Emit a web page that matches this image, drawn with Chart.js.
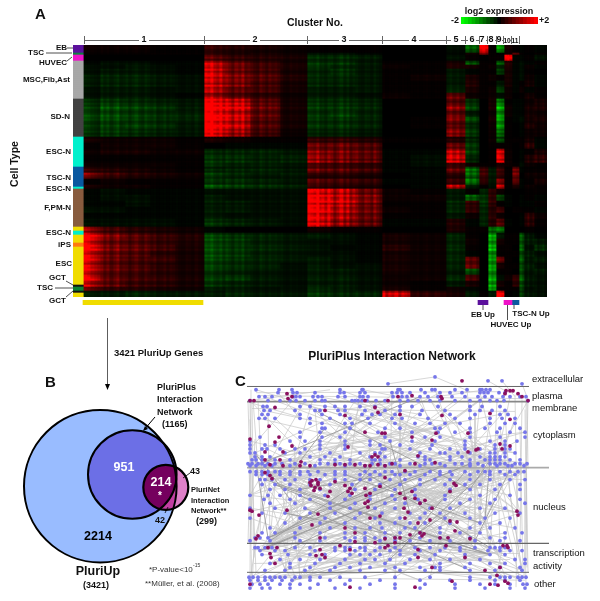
<!DOCTYPE html>
<html><head><meta charset="utf-8">
<style>html,body{margin:0;padding:0;background:#fff;overflow:hidden}
canvas{position:absolute;left:0;top:0}
#heat{filter:blur(.45px)} #net{filter:blur(.25px)}</style>
<script src="https://cdn.jsdelivr.net/npm/chart.js@4"></script>
</head><body>
<canvas id="heat" width="600" height="601"></canvas>
<canvas id="scale" width="600" height="601"></canvas>
<canvas id="up" width="600" height="601"></canvas>
<canvas id="venn" width="600" height="601"></canvas>
<canvas id="net" width="600" height="601"></canvas>
<script>
// ---------- A: heat map ----------
const clusterNames=['1','2','3','4','5','6','7','8','9','10','11'];
const clusterEdges=[0,120,223,298,362,381,395,403,412,419,427,435];
const columnEdges=[0,16,41,66,91,120,141,166,196,223,246,271,298,326,362,381,395,404,412,420,428,435,440,450,463];
const bandHeights=[4,1,3,2,2,3,3,3,3,3,3,3,3,3,3,4,3,3,3,4,2,3,3,3,2,3,3,3,3,3,4,3,3,3,3,3,3,3,3,3,3,2,3];
const expression=[
[2,2,2,1,1,5,4,3,2,1,1,1,0,0,-2,-8,20,1,-12,3,1,-1,1,-1],
[1,1,1,1,1,4,3,3,2,-2,-2,-1,0,0,-1,2,10,1,0,2,8,1,0,1],
[0,0,0,0,0,7,5,4,3,-4,-4,-3,0,0,-2,1,0,1,1,20,-1,-1,1,-2],
[-1,-2,-2,-1,-1,14,9,6,3,-5,-5,-3,1,1,3,-7,1,1,-8,4,-1,-2,-1,1],
[-2,-2,-3,-2,-1,15,10,7,4,-5,-4,-3,2,1,4,3,1,2,-4,4,-1,-2,2,-1],
[-2,-3,-3,-2,-1,16,10,7,3,-4,-5,-3,1,1,-3,-1,1,1,-6,3,-1,-2,1,0],
[-3,-4,-4,-3,-2,15,11,8,4,-4,-4,-3,1,2,-3,3,1,2,1,3,-1,-2,2,-1],
[-3,-4,-4,-3,-2,15,11,7,3,-4,-4,-3,1,1,-3,4,1,1,-3,3,-1,1,3,-1],
[-2,-3,-3,-2,-2,14,9,7,3,-3,-3,-3,1,1,-4,3,1,2,-6,2,-1,2,-1,1],
[-2,-3,-3,-2,-1,12,8,5,2,-3,-3,-2,2,1,9,2,1,2,-2,2,0,1,3,1],
[-5,-6,-5,-4,-3,20,17,9,3,-5,-5,-4,0,0,8,-5,0,3,-11,1,-1,-1,2,3],
[-5,-7,-6,-5,-3,20,17,9,3,-5,-5,-4,0,0,11,-6,0,3,-13,2,-1,-1,3,3],
[-6,-7,-6,-5,-4,20,16,9,3,-5,-6,-4,0,0,9,-3,0,2,-12,2,-1,-1,3,2],
[-6,-7,-6,-5,-4,20,16,8,3,-5,-5,-4,0,1,11,-7,0,3,-13,1,-1,-2,3,3],
[-5,-6,-6,-5,-3,20,16,8,3,-5,-5,-4,0,1,8,-4,0,2,-12,1,0,-1,4,2],
[-5,-6,-5,-4,-3,19,14,7,2,-4,-4,-3,0,0,12,-6,0,2,-10,1,0,-1,2,2],
[3,2,2,2,1,3,2,1,1,5,5,4,1,1,4,-4,0,2,-7,1,1,1,3,-1],
[1,2,2,2,1,0,-1,-1,-1,8,8,7,0,0,8,-5,0,1,1,1,0,1,5,-1],
[2,3,3,2,2,-4,-4,-4,-3,11,10,9,-1,-1,15,-6,0,1,17,2,0,-1,1,3],
[1,1,1,1,1,-5,-5,-4,-4,12,10,9,-1,-2,17,-4,0,1,18,2,0,-1,4,5],
[2,2,2,2,1,-5,-4,-4,-3,7,6,5,-1,-2,6,2,1,1,3,2,1,-2,2,1],
[5,4,3,2,1,-4,-4,-4,-3,9,8,7,-1,-1,9,-9,6,-3,6,1,10,-1,1,1],
[9,6,4,3,2,-5,-4,-3,-3,4,4,3,0,-1,4,-8,6,-3,5,1,10,0,2,2],
[1,2,1,1,1,-5,-5,-4,-3,8,7,6,-1,-1,6,-10,5,-3,11,1,9,-1,1,3],
[3,2,2,1,1,-7,-6,-5,-4,5,4,3,0,-1,14,-3,1,-2,15,1,3,-1,2,1],
[-1,-2,-1,-1,-1,-2,-2,-2,-2,18,15,10,2,1,-3,1,-4,5,2,0,0,0,1,1],
[-1,-2,-2,-1,-1,-3,-2,-2,-2,19,15,11,2,2,-3,-8,-5,5,-6,-1,0,-1,1,-1],
[-1,-1,-2,-1,-1,-3,-3,-2,-2,18,15,10,1,1,-4,5,-5,5,1,-1,0,-1,-1,1],
[-2,-2,-1,-1,-1,-3,-3,-2,-2,19,14,10,2,1,-4,5,-4,4,6,0,1,1,1,-1],
[-1,-1,-1,-1,-1,-3,-2,-2,-2,18,14,10,1,1,-3,2,-4,5,2,0,0,-1,6,2],
[-2,-2,-2,-2,-1,-5,-4,-3,-2,17,12,9,-1,-1,4,-1,-4,4,8,-1,0,-1,5,1],
[10,6,4,3,2,-1,0,0,0,2,1,1,0,0,3,1,1,-8,-9,0,0,0,1,0],
[18,11,8,6,4,-6,-5,-4,-3,-3,-2,-1,3,2,-4,1,0,-13,-3,1,1,-8,-3,-1],
[17,10,8,6,4,-7,-6,-4,-3,-2,-2,-1,3,2,-4,2,0,-13,3,1,1,-8,-4,-3],
[17,10,8,6,3,-6,-5,-4,-3,-2,-1,-1,4,2,-4,1,0,-13,1,1,0,-8,-2,-4],
[16,10,8,5,3,-7,-6,-4,-3,-2,-2,-1,3,2,-4,-1,0,-12,1,1,1,-7,-4,-2],
[16,9,7,6,3,-6,-5,-4,-3,-3,-2,-1,3,2,-4,8,0,-12,9,1,0,-8,-3,-3],
[15,9,7,5,3,-6,-5,-4,-2,-3,-2,-2,3,2,-4,9,0,-13,3,1,1,-7,-4,-2],
[15,9,7,5,3,-5,-4,-3,-2,-3,-3,-2,3,2,-3,-7,0,-12,1,1,0,-7,-3,-3],
[15,8,6,5,3,-5,-5,-3,-2,-3,-3,-2,2,2,-4,6,0,-12,-2,2,5,-8,-3,-2],
[14,9,6,5,3,-5,-4,-3,-2,-3,-3,-2,2,1,-3,3,0,-13,3,1,5,-7,-3,-2],
[8,5,4,3,2,-3,-3,-2,-2,-4,-3,-2,3,1,2,-1,0,-12,1,1,1,-6,-2,-2],
[-3,-3,-4,-3,-3,-3,-4,-3,-3,-5,-4,-4,16,5,3,-3,1,-3,20,0,-1,-6,-3,-2]];
// gene-to-gene variation inside each column block, tenths of the block value
const geneStripes=[[13,12,10,9,8],[12,9,11,8,10,12,8,9],[11,8,10,12,9,8,11,9],[10,12,8,9,11,8,10,9],[12,9,8,11,10,8,12,9,8],
[12,11,13,10,9,11,8],[12,10,8,11,9,12,8,9],[11,9,8,12,10,8,11,9,10,8],[12,9,8,11,9,10,8,9,8],
[12,11,10,13,9,10,8,11],[11,8,10,13,9,12,8,10],[12,9,8,11,10,8,12,9,7],
[12,8,10,9,11,8,10,9,8],[10,9,11,8,10,12,9,8,11,10,8,9],
[10,12,9,11,8,9],[12,9,11,8],[10,11,9],[11,9,10],[11,10,9],[10,11,9],[10,9],[11,8],[8,12,7,10],[12,7,10,13,8]];
// sample-to-sample variation, one value per 2px row
const sampleFactors=[10,12,9,8,11,10,13,9,8,12,10,9,11,8,10,12,9,11,10,8,12,9,10,11,8,9,12,10,8,11,9,13,10,8,9,12,10,11,8,9,12,10,9,11,8,10,
7,12,9,11,13,10,8,12,9,10,11,8,12,9,10,7,12,9,13,10,8,11,10,8,12,9,11,10,8,12,9,10,13,8,11,9,10,12,8,9,11,10,8,12,9,
11,13,9,8,12,10,11,8,9,12,10,13,9,8,11,10,12,9,8,11,10,12,9,8,10,11,13,9,8,12,10,11,8,12,10];
const sidebarHeights=[4,1,3,19,19,15,10,1,19,2,2,4,2,19,1,2,1,2];
const sidebarColors=['#5b109c','#0d8040','#ee12c8','#a8a8a8','#424242','#00f0cc','#0a58a0','#00f0cc','#885c3e','#f0dc00','#00eec8','#f0dc00','#ff7a10','#f0dc00','#111111','#0a8030','#111111','#f0dc00'];
const legendValues=[-2,-1.8,-1.6,-1.4,-1.2,-1,-.8,-.6,-.4,-.2,0,.2,.4,.6,.8,1,1.2,1.4,1.6,1.8,2];
const upLabels=['PluriUp','EB Up','HUVEC Up','TSC-N Up'];
const upSpans=[[-1,119],[394,404],[420,428],[428,435]];
const upColors=['#f0dc00','#5b109c','#ee12c8','#0a58a0'];

// ---------- B: Venn ----------
const vennNames=['PluriNet','PluriPlus','PluriUp'];
const vennSizes=[299,1165,3421];
const vennX=[165.8,132.3,100.3];
const vennY=[487.3,474.5,486.2];
const vennR=[22.5,44.3,76.3];

// ---------- C: network ----------
const compartmentY=[386.7,402,469,545.7,575];
const compartmentEnd=[529,529,549,549,529];
const compartmentWidth=[1,1.6,1.8,1.3,1];
const compartmentColor=['#666','#888','#aaa','#666','#666'];
const blueRows=[
[377,[435]],[381,[488,502]],[384,[388,522]],
[390,[256,279,292,340,362,363,398,400,421,432,435,455,467,480,482,486,490]],
[393,[278,293,297,315,340,344,360,365,392,397,402,410,425,440,450,462,480,484,488,499,505]],
[397,[259,265,272,293,296,300,313,318,322,338,345,360,363,368,393,402,407,420,428,438,452,465,478,485,492,503,510,520,526]],
[401,[250,268,280,290,296,305,315,325,322,352,355,358,362,367,376,385,400,408,418,430,440,455,470,480,490,497,504,528]],
[407,[263,267,300,310,325,335,345,360,375,400,412,438,470,482,500]],
[411,[264,270,295,315,320,338,345,365,385,400,422,445,470,480,492,505]],
[415,[262,268,300,322,340,362,372,380,395,420,450,475,500,508]],
[419,[259,265,275,300,310,330,350,368,392,402,428,455,470,490,502,515]],
[424,[310,322,345,352,370,395,415,430,445,460,490,505,515]],
[429,[322,325,350,385,400,435,440,470,485,500,520]],
[433,[320,300,345,378,412,438,455,470,497,510,525]],
[438,[260,300,322,340,385,425,440,470,500,525]],
[442,[250,290,305,320,345,370,390,412,435,465,490,505,517]],
[446,[250,265,275,320,345,370,380,400,432,465,495,505]],
[450,[250,262,267,280,295,305,320,345,382,385,410,430,450,465,480,495,505,510]],
[454,[250,255,285,300,330,360,375,380,420,440,445,458,470,490,495,505,515]],
[458,[255,262,270,310,325,340,370,385,418,425,450,462,480,490,495,500,505]],
[461,[252,256,262,275,290,320,335,350,372,375,380,400,425,430,450,470,485,490,495,500,510,520]],
[465,[248,252,258,262,268,275,282,295,305,320,328,335,340,350,360,372,380,390,395,410,425,432,440,455,462,470,478,490,495,500,505,515,520,527]],
[467,[250,256,265,272,290,315,345,365,385,400,420,445,470,483,497,508,512,524]],
[473,[250,256,262,268,275,280,290,300,308,318,335,345,365,375,385,392,405,415,430,440,450,465,478,485,490,500,510,518,524]],
[476,[256,262,268,280,290,300,310,325,335,345,360,370,380,395,400,410,425,440,452,470,490,505,515]],
[481,[260,265,272,285,295,310,320,335,345,360,370,390,405,420,435,450,470,490,510,525]],
[486,[262,275,290,310,330,352,380,400,420,445,465,480,500,520]],
[491,[270,285,300,320,355,375,395,415,450,470,495,520]],
[497,[250,268,280,300,325,350,370,392,415,445,480,510]],
[501,[264,290,310,345,370,395,418,445,470,495,520]],
[505,[270,295,330,355,385,405,420,460,490,525]],
[510,[250,275,305,330,350,375,395,430,450,480,505]],
[515,[262,285,310,335,360,382,410,425,440,465,495,520]],
[520,[250,300,325,355,375,400,420,445,470,485,510]],
[525,[285,320,345,380,395,410,425,450,480,500]],
[530,[270,300,330,355,370,382,405,415,440,470,490,515]],
[535,[262,275,295,320,345,365,385,400,420,440,460,480,505,522]],
[540,[255,260,268,295,325,345,355,365,375,385,395,420,440,470,490,505]],
[543,[250,270,300,320,350,365,380,395,410,430,450,475,500,520]],
[550,[255,258,265,272,295,310,335,345,350,360,365,380,395,415,430,445,460,475,490,495,500,505]],
[553,[260,275,285,315,335,345,355,365,375,390,400,420,440,460,488,500,510,522]],
[557,[262,288,310,325,350,360,370,380,400,415,435,465,490,505]],
[562,[280,300,320,345,365,375,390,410,430,450,480,515,525]],
[566,[270,290,315,340,360,385,405,440,470,490,505,525]],
[570,[290,310,335,350,370,395,420,435,440,465,500,520]],
[573,[265,285,305,330,360,385,400,425,440,470,495,522]],
[580,[249,253,258,265,270,275,280,285,295,300,310,320,340,365,395,430,470,490,500,505,510,518,522,526]],
[583,[250,258,265,272,282,292,310,330,350,380,420,450,470,495,505,520]],
[587,[252,260,268,280,290,300,318,345,370,395,425,455,480,495,510,523,527]],
[591,[250,262,270,290,310,335,360,395,420,455,485,510,525]]];
const maroonNodes=[[462,381],[506,391],[510,391],[513,391],[505,394],[518,394],[522,397],[528,401],[250,401],[254,401],[287,394],[292,397],[288,399],[365,401],[388,401],[398,397],[412,396],[441,397],[442,399],[275,408],[325,411],[375,408],[378,413],[345,416],[400,415],[442,416],[490,414],[510,420],[269,427],[250,440],[279,438],[275,443],[292,447],[265,453],[283,453],[348,448],[365,433],[382,434],[385,434],[412,438],[432,441],[436,434],[468,434],[468,453],[476,451],[478,450],[418,457],[372,458],[375,456],[378,458],[265,461],[280,461],[301,463],[270,466],[283,467],[300,467],[310,467],[335,466],[345,466],[355,466],[365,467],[370,467],[378,466],[385,467],[392,465],[415,465],[435,464],[265,474],[270,477],[272,480],[310,484],[312,482],[316,481],[318,484],[311,487],[315,489],[318,486],[320,490],[314,492],[335,483],[345,487],[350,490],[348,493],[352,495],[365,490],[370,495],[330,493],[328,498],[366,497],[368,503],[365,505],[368,509],[405,472],[412,493],[385,479],[380,488],[400,495],[405,500],[415,500],[420,505],[404,510],[408,514],[425,502],[430,522],[432,510],[405,520],[418,525],[370,520],[380,518],[420,535],[440,540],[450,523],[455,533],[448,540],[457,524],[450,493],[454,485],[456,487],[250,512],[252,513],[259,517],[287,512],[312,527],[320,540],[345,530],[355,535],[318,516],[258,538],[256,541],[355,544],[385,541],[388,548],[395,540],[395,545],[400,540],[410,537],[418,552],[422,538],[424,536],[446,548],[470,541],[503,548],[507,548],[508,550],[277,550],[268,550],[270,556],[271,560],[275,566],[320,552],[322,557],[325,560],[316,558],[340,548],[350,552],[375,545],[385,550],[418,560],[432,570],[465,560],[485,573],[500,570],[497,578],[498,588],[505,584],[508,586],[490,587],[452,584],[415,590],[350,590],[250,587],[517,513],[518,517],[500,445],[510,447],[502,450]];
const edgePairs=[12,410,25,390,40,502,61,330,77,455,88,620,95,371,103,540,118,288,130,466,142,605,150,322,166,510,171,400,183,690,190,347,204,578,212,445,225,300,233,640,241,380,255,520,268,715,274,333,281,470,296,610,305,425,318,560,326,388,339,650,347,498,352,702,366,430,379,590,385,285,398,545,404,472,417,630,428,360,436,515,449,675,457,395,463,585,478,340,482,528,495,660,503,415,511,725,524,370,532,600,547,440,558,310,566,645,573,490,588,385,596,700,607,452,615,350,629,535,638,405,646,580,653,480,661,720,672,425,684,555,693,330,704,640,712,500,721,368,728,610,735,450,
8,180,15,260,22,148,33,410,47,231,55,295,69,520,74,170,82,355,91,245,99,440,107,210,115,336,122,590,136,265,145,380,153,480,160,302,174,555,179,235,187,415,195,348,201,500,209,275,218,630,227,390,236,312,246,470,252,545,260,360,271,425,279,610,288,335,293,515,301,400,310,580,315,470,323,365,331,540,344,430,349,655,356,410,362,500,372,445,381,595,387,465,393,530,401,435,408,620,414,480,421,560,431,510,439,670,446,520,451,600,459,500,466,690,474,550,480,625,488,570,497,610,505,660,513,590,520,640,529,700,537,620,545,680,552,730,
5,300,30,420,44,350,58,270,66,480,72,600,85,330,93,560,110,420,125,500,138,380,147,650,158,440,168,310,177,525,185,265,199,460,206,370,216,575,222,420,230,510,239,340,249,620,258,480,266,395,277,545,284,430,291,680,299,505,308,370,316,590,325,450,334,620,341,490,350,560,359,420,368,700,375,505,383,610,391,460,399,570,406,510,412,650,419,480,426,560,433,620,441,500,448,710,455,530,461,590,469,640,476,520,484,605,491,565,499,675,507,610,515,640,523,590,531,700,539,655,548,610,556,720,564,640,571,690,579,650,586,725,594,680,602,640,611,710,618,665,626,700,634,680,642,720,
10,90,20,120,35,110,50,140,60,155,75,165,90,190,105,200,120,215,135,240,150,250,165,270,180,285,195,305,210,320,225,335,240,350,255,365,270,380,285,395,300,410,315,425,330,440,345,455,360,470,375,485,390,500,405,515,420,530,435,545,450,560,465,575,480,590,495,605,510,620,525,635,540,650,555,665,570,680,585,695,600,710,615,725,
800,310,805,420,811,250,818,520,822,610,829,175,835,395,841,480,846,660,852,300,858,560,863,130,868,440,874,700,880,350,886,590,891,225,897,470,903,640,908,380,914,515,920,95,925,285,931,620,937,405,942,545,948,705,
9,610,17,530,28,470,38,690,52,385,64,590,79,425,86,510,97,640,111,335,124,455,132,575,143,285,156,710,169,365,181,500,193,625,203,440,215,300,224,565,235,680,244,405,253,520,263,320,273,640,283,470,292,585,303,365,312,700,321,445,329,540,338,260,346,620,354,490,363,410,371,575,380,300,389,660,396,525,403,435,411,600,420,340,427,555,434,680,443,385,450,510,458,620,465,300,473,590,481,430,489,650,496,360,504,545,512,715,519,420,527,605,535,335,543,470,551,640,559,285,567,500,575,380,583,690,591,445,599,300,606,520,614,410,622,665,630,355,637,560,645,280,652,470,660,385,668,600,676,320,683,515,691,440,699,250,706,570,714,390,722,485,730,300,
310,352,322,376,336,402,348,421,361,445,373,466,384,489,397,510,409,533,422,554,437,576,447,598,460,620,471,641,486,662,498,684,509,705,521,728,533,400,544,430,555,465,568,495,580,525,592,555,604,585,616,615,628,645,640,675,650,700,
340,480,345,505,352,530,358,555,365,580,372,605,378,630,385,655,392,680,400,705,408,500,415,525,422,550,430,575,438,600,445,625,452,650,460,675,468,700,475,395,482,420,490,445,497,470,505,495,512,520,520,545,527,570,535,595,542,620,550,645,558,670,565,695,572,720];
const heavyPairs=[60,340,118,452,175,390,212,505,240,470,266,560,300,520,318,606,355,585,378,620,402,560,430,640,452,300,468,250,490,620,512,350,530,395,560,420,590,330,612,450,640,500,660,380,688,430,330,610,370,575,410,640,445,350,475,600];
const sideEdges=[[250,402,252,545],[251,390,250,580],[252,401,254,560],[249,465,252,590],[250,420,256,575],[253,400,258,470],[255,440,250,545],[258,401,262,480],[248,402,250,470],[250,470,248,545],[254,550,252,590],[526,397,527,545],[528,401,524,580],[525,410,527,570],[524,465,526,590],[522,400,520,550],[520,430,523,575],[518,470,516,590],[515,395,517,520],[527,402,528,470],[526,470,528,575],[250,401,330,390],[250,403,300,418],[388,384,435,377],[435,377,470,392],[488,381,505,391],[502,381,515,397],[522,384,528,400],[260,580,380,575],[420,575,525,580],[250,580,525,583],[252,552,520,556],[254,566,510,562],[260,396,522,399],[256,393,500,392],[252,409,515,412]];

// ---------- helpers ----------
const rampColor=k=>Math.round(255*Math.min(1,k));
const legendColor=v=>{const c=rampColor(Math.abs(v)/2);return v>=0?`rgb(${c},0,0)`:`rgb(0,${c},0)`};
const heatColor=v=>{const c=rampColor(Math.pow(Math.min(1,Math.abs(v)/2),1.3));return v>=0?`rgb(${c},0,0)`:`rgb(0,${c},0)`};
const F='"Liberation Sans",Arial,sans-serif';
const common={responsive:false,animation:false,events:[],plugins:{legend:{display:false},tooltip:{enabled:false}}};
const hidden=(extra)=>Object.assign({display:false},extra);
function textPlugin(id,items){return {id,afterDraw(c){const g=c.ctx;g.save();
  for(const t of items){if(t.line){g.strokeStyle=t.color||'#222';g.lineWidth=t.w||.8;g.beginPath();g.moveTo(t.line[0],t.line[1]);g.lineTo(t.line[2],t.line[3]);g.stroke();continue;}
    g.font=t.f;g.fillStyle=t.c||'#111';g.textAlign=t.a||'left';g.textBaseline='middle';
    if(t.rot){g.save();g.translate(t.x,t.y);g.rotate(t.rot);g.fillText(t.s,0,0);g.restore();}else g.fillText(t.s,t.x,t.y);}
  g.restore();}}}
const b=(s)=>`bold ${s}px ${F}`, r=(s)=>`${s}px ${F}`;

const rowBands=[];bandHeights.forEach((h,i)=>{for(let k=0;k<h;k++)rowBands.push(i)});
const rowLabels=rowBands.map((_,i)=>'r'+i);
const sideRows=[];sidebarHeights.forEach((h,i)=>{for(let k=0;k<h;k++)sideRows.push(i)});
const heatDatasets=[];
geneStripes.forEach((st,j)=>{const a=columnEdges[j],w=columnEdges[j+1]-a;
  st.forEach((f,s)=>{const x0=a+Math.round(w*s/st.length),x1=a+Math.round(w*(s+1)/st.length);
    heatDatasets.push({label:'col'+j+'.'+s,grouped:false,barPercentage:1,categoryPercentage:1,borderWidth:0,
      data:rowBands.map(()=>[x0,x1]),
      backgroundColor:rowBands.map((bd,ri)=>heatColor(expression[bd][j]/10*f/10*sampleFactors[ri]/10))});});});
heatDatasets.push({label:'Cell type',grouped:false,barPercentage:1,categoryPercentage:1,borderWidth:0,
  data:sideRows.map(()=>[-11,0]),backgroundColor:sideRows.map(i=>sidebarColors[i])});

const clusterCentres=[60,171,260,330,372,388,398,407,415,423,431];
const bracket={id:'bracket',afterDraw(c){const g=c.ctx,x=c.scales.x;g.save();g.strokeStyle='#666';g.lineWidth=1;
  const y=40;clusterEdges.forEach(e=>{const p=x.getPixelForValue(e);g.beginPath();g.moveTo(p+.5,36);g.lineTo(p+.5,44);g.stroke();});
  clusterNames.forEach((n,i)=>{const a=x.getPixelForValue(clusterEdges[i]),d=x.getPixelForValue(clusterEdges[i+1]),m=x.getPixelForValue(clusterCentres[i]),hw=i>8?5:(i>4?4:5);
    g.beginPath();g.moveTo(a,y+.5);g.lineTo(m-hw,y+.5);g.moveTo(m+hw,y+.5);g.lineTo(d,y+.5);g.stroke();});
  g.restore();}};
const labelsA=[
 {s:'A',x:35,y:15,f:b(15)},{s:'Cluster No.',x:315,y:23,a:'center',f:b(10.5)},
 {s:'log2 expression',x:499,y:12,a:'center',f:b(9)},{s:'-2',x:459,y:20.5,a:'right',f:b(9)},{s:'+2',x:539,y:20.5,f:b(9)},
 {s:'Cell Type',x:15,y:164,a:'center',f:b(10.5),rot:-Math.PI/2},
 {s:'EB',x:67,y:48,a:'right',f:b(8)},{s:'TSC',x:44,y:53,a:'right',f:b(8)},{s:'HUVEC',x:67,y:63,a:'right',f:b(8)},
 {s:'MSC,Fib,Ast',x:70,y:79.5,a:'right',f:b(8)},{s:'SD-N',x:70,y:117,a:'right',f:b(8)},{s:'ESC-N',x:71,y:152,a:'right',f:b(8)},
 {s:'TSC-N',x:71,y:178,a:'right',f:b(8)},{s:'ESC-N',x:71,y:189,a:'right',f:b(8)},{s:'F,PM-N',x:71,y:208,a:'right',f:b(8)},
 {s:'ESC-N',x:71,y:232.5,a:'right',f:b(8)},{s:'iPS',x:71,y:244.5,a:'right',f:b(8)},{s:'ESC',x:72,y:264,a:'right',f:b(8)},
 {s:'GCT',x:66,y:278,a:'right',f:b(8)},{s:'TSC',x:53,y:288,a:'right',f:b(8)},{s:'GCT',x:66,y:301,a:'right',f:b(8)},
 {line:[67,48,73,48]},{line:[46,53,72,53]},{line:[67,61,72,57]},{line:[66,281,73,285]},{line:[55,288,73,288]},{line:[66,297,73,291]},
 {s:'EB Up',x:483,y:315,a:'center',f:b(8)},{s:'HUVEC Up',x:511,y:325,a:'center',f:b(8)},{s:'TSC-N Up',x:531,y:314,a:'center',f:b(8)},
 {line:[483,305,483,310]},{line:[507.5,305,507.5,320]},{line:[514,305,514,309]}];

new Chart('heat',{type:'bar',data:{labels:rowLabels,datasets:heatDatasets},
 options:{...common,indexAxis:'y',layout:{padding:{left:73,right:53,top:32,bottom:304}},
  scales:{y:hidden({type:'category',stacked:false}),
   x:{type:'linear',position:'top',min:-11,max:463,border:{display:false},grid:{display:false,drawTicks:false},
      afterFit(s){s.height=13},
      afterBuildTicks(s){s.ticks=clusterCentres.map(v=>({value:v}))},
      ticks:{autoSkip:false,maxRotation:0,minRotation:0,padding:0,color:'#111',font:c=>({family:F,weight:'bold',size:c.index>8?6.5:9}),
        callback:(v,i)=>clusterNames[i]}}}},
 plugins:[bracket]});

new Chart('scale',{type:'bar',data:{labels:legendValues.map(String),datasets:[{label:'log2 expression',
   data:legendValues.map(()=>[0,1]),backgroundColor:legendValues.map(legendColor),borderWidth:0,barPercentage:1,categoryPercentage:1}]},
 options:{...common,layout:{padding:{left:461,right:62,top:17,bottom:577}},scales:{x:hidden(),y:hidden({min:0,max:1})}}});

new Chart('up',{type:'bar',data:{labels:['Up genes'],datasets:upLabels.map((l,i)=>({label:l,grouped:false,barPercentage:1,categoryPercentage:1,borderWidth:0,
   data:[upSpans[i]],backgroundColor:upColors[i]}))},
 options:{...common,indexAxis:'y',layout:{padding:{left:73,right:53,top:300,bottom:296}},scales:{x:hidden({min:-11,max:463}),y:hidden()}},
 plugins:[textPlugin('ta',labelsA)]});

// ---------- Venn ----------
const vennPlugin={id:'vennClip',afterDatasetsDraw(c){const g=c.ctx;
  const P=vennNames.map((_,i)=>{const e=c.getDatasetMeta(i).data[0];return {x:e.x,y:e.y,r:e.options.radius}});
  const circ=p=>{g.beginPath();g.arc(p.x,p.y,p.r,0,Math.PI*2)};
  const [sm,mid,big]=P;
  g.save();circ(sm);g.fillStyle='#de80c8';g.fill();circ(big);g.clip();circ(sm);g.fillStyle='#c23fa2';g.fill();g.restore();
  g.save();circ(mid);g.clip();circ(sm);g.fillStyle='#75005e';g.fill();g.restore();
  g.strokeStyle='#000';g.lineWidth=2;[big,mid].forEach(p=>{circ(p);g.stroke()});
  g.lineWidth=2.2;circ(sm);g.stroke();}};
const labelsB=[
 {s:'3421 PluriUp Genes',x:114,y:353,f:b(9.5)},{s:'B',x:45,y:383,f:b(15)},
 {s:'PluriPlus',x:157,y:388,f:b(9)},{s:'Interaction',x:157,y:400,f:b(9)},{s:'Network',x:157,y:412.5,f:b(9)},{s:'(1165)',x:162,y:425,f:b(9)},
 {line:[155,417,144,430],color:'#000',w:1},
 {s:'951',x:124,y:468,a:'center',f:b(12.5),c:'#fff'},{s:'214',x:161,y:483,a:'center',f:b(12.5),c:'#fff'},{s:'*',x:160,y:496,a:'center',f:b(10),c:'#fff'},
 {s:'2214',x:98,y:537,a:'center',f:b(12.5),c:'#000'},
 {s:'43',x:190,y:472,f:b(9)},{line:[183,478,190,473],color:'#000'},{s:'42',x:160,y:520.5,a:'center',f:b(9)},{line:[165,513,168,507],color:'#000'},
 {s:'PluriNet',x:191,y:490,f:b(7.5)},{s:'Interaction',x:191,y:500.5,f:b(7.5)},{s:'Network**',x:191,y:511,f:b(7.5)},{s:'(299)',x:196,y:522,f:b(9)},
 {s:'PluriUp',x:98,y:572,a:'center',f:b(12.5)},{s:'(3421)',x:96,y:586,a:'center',f:b(9)},
 {s:'*P-value<10',x:149,y:570,f:r(8),c:'#333'},{s:'-15',x:193,y:566,f:r(5),c:'#333'},{s:'**Müller, et al. (2008)',x:145,y:584,f:r(8),c:'#333'}];
const arrowB={id:'arrowB',afterDraw(c){const g=c.ctx;g.save();
  g.fillStyle='#000';g.strokeStyle='#333';g.lineWidth=.8;g.beginPath();g.moveTo(107.5,318);g.lineTo(107.5,384);g.stroke();
  g.beginPath();g.moveTo(105,384);g.lineTo(110,384);g.lineTo(107.5,390);g.closePath();g.fill();
  g.beginPath();g.moveTo(143,431);g.lineTo(145,426);g.lineTo(148,429);g.closePath();g.fill();g.restore();}};
new Chart('venn',{type:'bubble',data:{datasets:vennNames.map((n,i)=>({label:n,
    data:[{x:vennX[i],y:vennY[i],r:vennR[i]}],
    backgroundColor:['#de80c8','#6c6fe6','#99bcff'][i],borderWidth:0,clip:false}))},
 options:{...common,layout:{autoPadding:false,padding:{left:0,right:365,top:370,bottom:0}},
  scales:{x:hidden({min:0,max:235}),y:hidden({min:370,max:601,reverse:true})}},
 plugins:[vennPlugin,arrowB,textPlugin('tb',labelsB)]});

// ---------- Network ----------
const blueNodes=[];blueRows.forEach(([y,xs])=>xs.forEach(x=>blueNodes.push({x,y})));
const redNodes=maroonNodes.map(([x,y])=>({x,y}));
const allNodes=blueNodes.concat(redNodes);
const toSeg=list=>{const o=[];for(let i=0;i+1<list.length;i+=2){const A=allNodes[list[i]],B=allNodes[list[i+1]];if(A&&B)o.push(A,B,{x:A.x,y:null});}return o};
const sideSeg=[];sideEdges.forEach(([a,c,d,e])=>sideSeg.push({x:a,y:c},{x:d,y:e},{x:a,y:null}));
const netDatasets=[
 {label:'Interacting PluriNet node',data:redNodes,backgroundColor:'#8a0f5e',pointRadius:1.9,borderWidth:0,showLine:false},
 {label:'PluriPlus node',data:blueNodes,backgroundColor:'#7676ea',pointRadius:1.9,borderWidth:0,showLine:false},
 ...compartmentY.map((y,i)=>({label:'compartment'+i,data:[{x:247,y},{x:compartmentEnd[i],y}],showLine:true,pointRadius:0,borderColor:compartmentColor[i],borderWidth:compartmentWidth[i]})),
 {label:'strong edges',data:toSeg(heavyPairs),showLine:true,pointRadius:0,borderColor:'#9c9c9c',borderWidth:.9,spanGaps:false},
 {label:'edges',data:toSeg(edgePairs).concat(sideSeg),showLine:true,pointRadius:0,borderColor:'#c6c6c6',borderWidth:.7,spanGaps:false}];
const labelsC=[
 {s:'PluriPlus Interaction Network',x:392,y:357,a:'center',f:b(12)},{s:'C',x:235,y:382,f:b(15)},
 {s:'extracellular',x:532,y:379,f:r(9.5)},{s:'plasma',x:532,y:396,f:r(9.5)},{s:'membrane',x:532,y:408,f:r(9.5)},{s:'cytoplasm',x:533,y:435,f:r(9.5)},
 {s:'nucleus',x:533,y:507,f:r(9.5)},{s:'transcription',x:533,y:553,f:r(9.5)},{s:'activity',x:533,y:566,f:r(9.5)},{s:'other',x:534,y:584,f:r(9.5)}];
new Chart('net',{type:'scatter',data:{datasets:netDatasets},
 options:{...common,layout:{padding:{left:240,right:40,top:370,bottom:1}},
  scales:{x:hidden({type:'linear',min:240,max:560}),y:hidden({type:'linear',min:370,max:600,reverse:true})}},
 plugins:[textPlugin('tc',labelsC)]});
</script></body></html>
